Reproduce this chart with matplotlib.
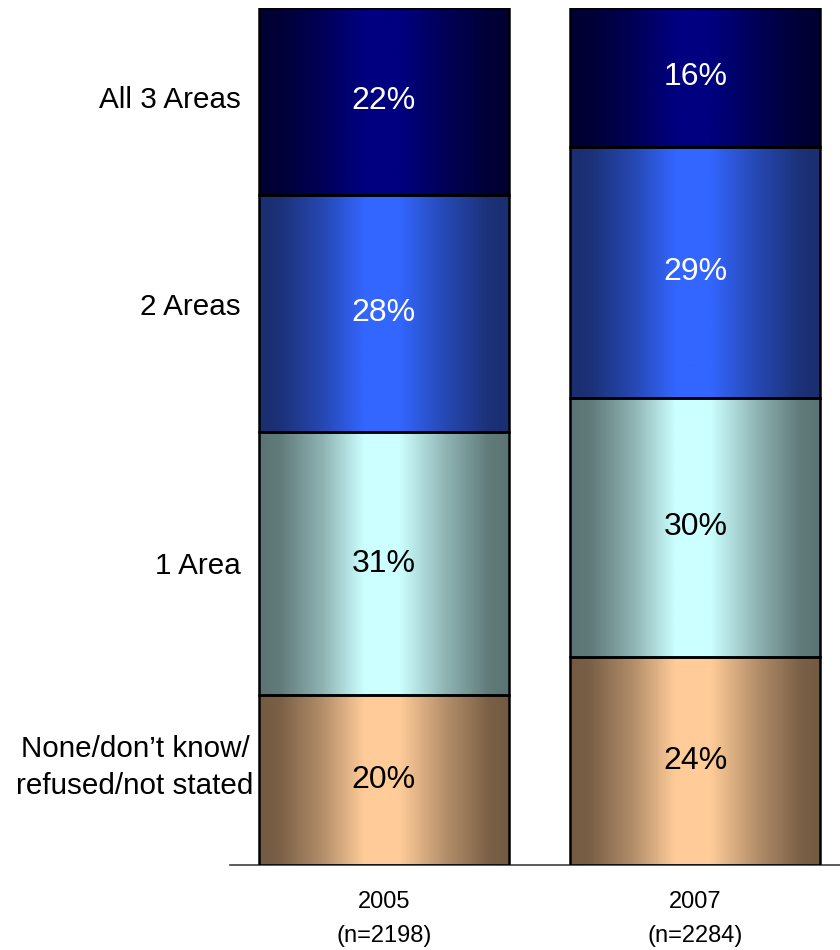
import numpy as np
import matplotlib
matplotlib.use("Agg")
import matplotlib.pyplot as plt
from matplotlib.colors import to_rgb
from matplotlib.transforms import blended_transform_factory, offset_copy

plt.rcParams["font.family"] = ["Liberation Sans", "DejaVu Sans"]

years = ["2005\n(n=2198)", "2007\n(n=2284)"]
categories = ["None/don\u2019t know/\nrefused/not stated", "1 Area", "2 Areas", "All 3 Areas"]
pct_2005 = [20, 31, 28, 22]
pct_2007 = [24, 30, 29, 16]

# (edge colour, centre highlight) per segment, bottom to top
shades = [
    ("#735a42", "#ffcc99"),
    ("#5b7373", "#ccffff"),
    ("#1a2e70", "#3366ff"),
    ("#000033", "#000080"),
]
label_colors = ["black", "black", "white", "white"]
# row label placement: anchor x (pixels), alignment, vertical nudge (pixels, up +)
label_x = [135, 241, 241, 241]
label_ha = ["center", "right", "right", "right"]
label_nudge = [13, -2, 6, 1]

# horizontal "cylinder" shading profile across a bar
prof_x = [0.0, 0.08, 0.25, 0.42, 0.56, 0.75, 0.92, 1.0]
prof_v = [0.0, 0.05, 0.45, 1.0, 1.0, 0.45, 0.05, 0.0]


def gradient_img(edge, centre, n=256):
    t = np.interp(np.linspace(0, 1, n), prof_x, prof_v)
    e = np.array(to_rgb(edge))
    c = np.array(to_rgb(centre))
    return (e[None, :] + (c - e)[None, :] * t[:, None])[None, :, :]


fig = plt.figure(figsize=(8.4, 9.5), dpi=100)
ax = fig.add_axes([230 / 840, 1 - 865 / 950, 1 - 230 / 840, (865 - 8) / 950])

width = 0.8026
x = np.arange(len(years))
for xi, vals in zip(x, [pct_2005, pct_2007]):
    vals = np.array(vals, dtype=float)
    norm = vals / vals.sum() * 100
    bottoms = np.concatenate([[0], np.cumsum(norm)[:-1]])
    for k, (v, b, raw) in enumerate(zip(norm, bottoms, vals)):
        bar = ax.bar(xi, v, width, bottom=b, facecolor="none",
                     edgecolor="black", linewidth=1.8, zorder=3)[0]
        im = ax.imshow(gradient_img(*shades[k]), aspect="auto",
                       extent=[xi - width / 2, xi + width / 2, b, b + v],
                       zorder=2, interpolation="bilinear")
        im.set_clip_path(bar)
        ax.text(xi, b + v / 2, f"{int(raw)}%", ha="center", va="center",
                fontsize=23, color=label_colors[k], zorder=4)

# row labels beside the first bar
n05 = np.array(pct_2005, dtype=float) / sum(pct_2005) * 100
mids = np.cumsum(n05) - n05 / 2
trans = blended_transform_factory(fig.transFigure, ax.transData)
for cat, m, lx, ha, dy in zip(categories, mids, label_x, label_ha, label_nudge):
    t = offset_copy(trans, fig=fig, y=dy, units="dots")
    ax.text(lx / 840, m, cat, ha=ha, va="center", fontsize=21.3,
            multialignment="center", transform=t, linespacing=1.4)

ax.set_xlim(-0.494, 1.464)
ax.set_ylim(0, 100)
ax.set_xticks(x)
ax.set_xticklabels(years, fontsize=17, linespacing=1.68)
ax.tick_params(axis="x", length=0, pad=19)
ax.set_yticks([])
for s in ("top", "right", "left"):
    ax.spines[s].set_visible(False)
ax.spines["bottom"].set_color("#404040")
ax.spines["bottom"].set_linewidth(1.2)

fig.savefig("out.png", dpi=100)
